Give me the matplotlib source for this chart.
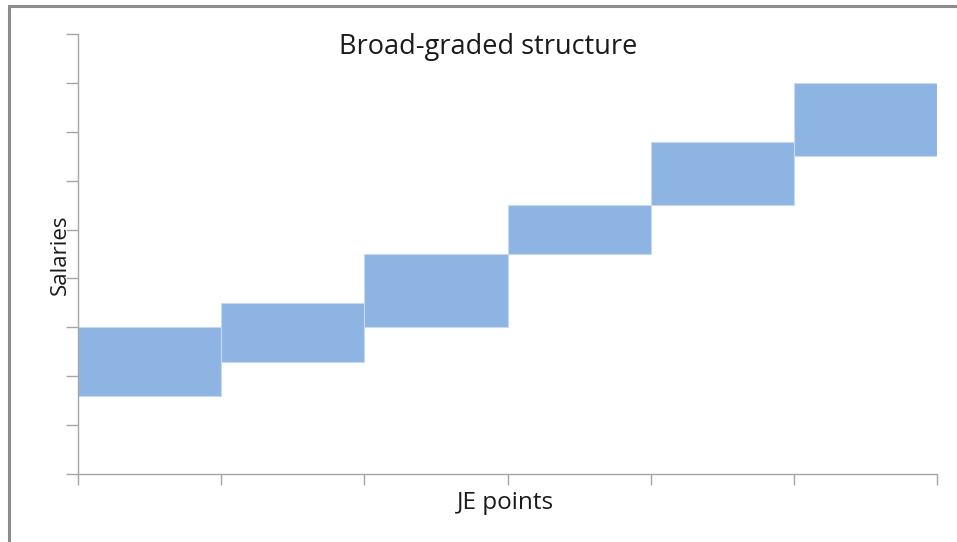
import matplotlib
matplotlib.use("Agg")
import matplotlib.pyplot as plt
from matplotlib.patches import Rectangle

# Salary bands per grade (min, max), in arbitrary salary units
grades = ["A", "B", "C", "D", "E", "F"]
band_min = [16, 23, 30, 45, 55, 65]
band_max = [30, 35, 45, 55, 68, 80]

y_max = 90
y_step = 10

plt.rcParams["font.family"] = ["Open Sans", "DejaVu Sans"]

fig = plt.figure(figsize=(9.57, 5.42), dpi=100)
fig.patch.set_facecolor("white")

# Outer chart border
fig.patches.append(Rectangle((9 / 957, -0.05), 1.2, (536 / 542) + 0.05,
                             transform=fig.transFigure, fill=False,
                             edgecolor="#8c8c8c", linewidth=2.2, zorder=0))

ax = fig.add_axes([78 / 957, (542 - 474) / 542, (937 - 78) / 957, (474 - 34) / 542])

x = list(range(len(grades)))
heights = [hi - lo for lo, hi in zip(band_min, band_max)]
ax.bar(x, heights, bottom=band_min, width=1.0, align="edge",
       color="#8EB4E3", edgecolor="#C6D9F1", linewidth=0.8)

ax.set_xlim(0, len(grades))
ax.set_ylim(0, y_max)
ax.set_xticks(range(len(grades) + 1))
ax.set_yticks(range(0, y_max + 1, y_step))
ax.set_xticklabels([])
ax.set_yticklabels([])

for side in ("top", "right"):
    ax.spines[side].set_visible(False)
for side in ("left", "bottom"):
    ax.spines[side].set_color("#a6a6a6")
    ax.spines[side].set_linewidth(1.0)
ax.tick_params(axis="y", length=9, color="#a6a6a6", width=1.0, direction="out")
ax.tick_params(axis="x", length=8, color="#a6a6a6", width=1.0, direction="out")

fig.text(488 / 957, 1 - 47 / 542, "Broad-graded structure", ha="center", va="center",
         fontsize=19.5, color="#1a1a1a")
fig.text(60 / 957, 1 - 255 / 542, "Salaries", ha="center", va="center",
         rotation=90, fontsize=16, color="#1a1a1a")
fig.text(505 / 957, 1 - 503 / 542, "JE points", ha="center", va="center",
         fontsize=17.5, color="#1a1a1a")

fig.savefig("out.png", dpi=100)
